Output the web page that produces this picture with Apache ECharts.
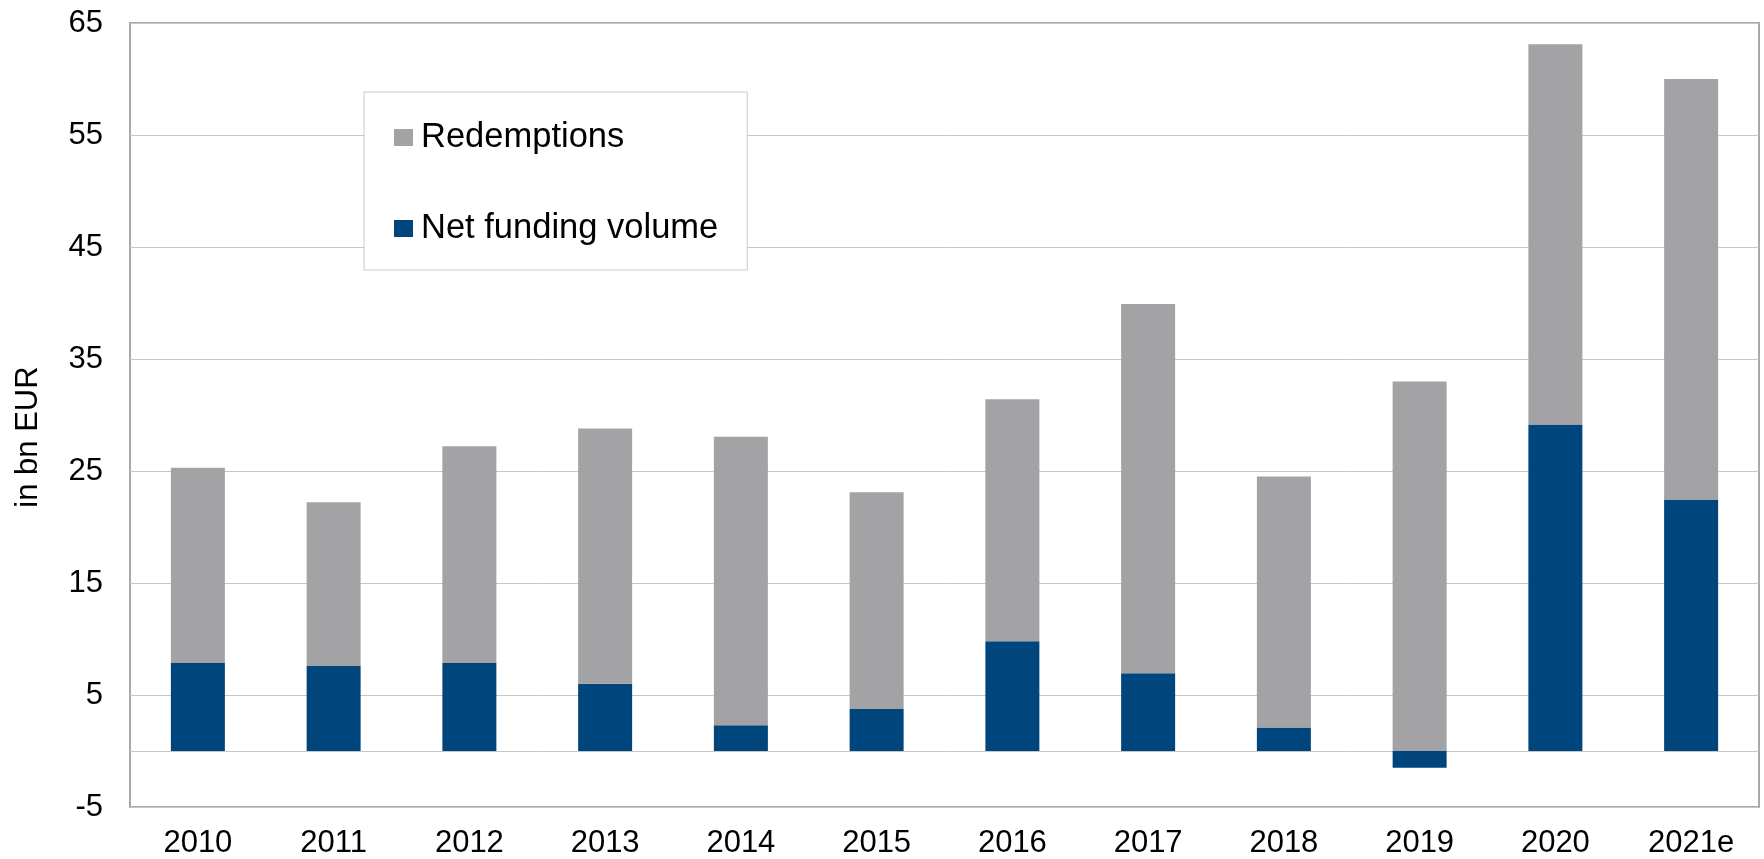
<!DOCTYPE html>
<html>
<head>
<meta charset="utf-8">
<script src="https://cdn.jsdelivr.net/npm/echarts@6/dist/echarts.min.js"></script>
<style>
html,body{margin:0;padding:0;background:#fff;}
#chart{width:1764px;height:859px;}
</style>
</head>
<body>
<div id="chart"></div>
<script>
const categories = ['2010','2011','2012','2013','2014','2015','2016','2017','2018','2019','2020','2021e'];
const netFunding = [7.85, 7.6, 7.85, 6.0, 2.3, 3.75, 9.8, 6.95, 2.1, -1.5, 29.15, 22.45];
const redemptions = [17.45, 14.6, 19.35, 22.8, 25.75, 19.35, 21.6, 32.95, 22.4, 33.0, 33.95, 37.55];
const yTicks = {min: -5, max: 65, interval: 10};
const yTitle = 'in bn EUR';

const FONT = '"Liberation Sans", Arial, sans-serif';
const chart = echarts.init(document.getElementById('chart'));
chart.setOption({
  backgroundColor: '#ffffff',
  animation: false,
  grid: {left: 130, right: 5, top: 23, bottom: 51, show: true, borderColor: '#a9a9a9', borderWidth: 2, backgroundColor: 'transparent'},
  legend: {
    data: ['Redemptions', 'Net funding volume'],
    orient: 'vertical',
    left: 364, top: 92,
    padding: [28, 29, 24, 30],
    itemGap: 56,
    itemWidth: 19, itemHeight: 17,
    backgroundColor: '#ffffff',
    borderColor: '#c8c8c8', borderWidth: 1,
    icon: 'rect',
    textStyle: {fontFamily: FONT, fontSize: 34.5, color: '#000', lineHeight: 35, padding: [0,0,0,3]}
  },
  graphic: [{
    type: 'text', x: 28, y: 437, rotation: Math.PI/2,
    style: {text: yTitle, font: '31px ' + FONT, fill: '#000', textAlign: 'center', textVerticalAlign: 'middle'}
  }],
  xAxis: {
    type: 'category', data: categories,
    axisLine: {show: false}, axisTick: {show: false},
    axisLabel: {fontFamily: FONT, fontSize: 31, color: '#000', margin: 21}
  },
  yAxis: {
    type: 'value', min: yTicks.min, max: yTicks.max, interval: yTicks.interval,
    axisLine: {show: false}, axisTick: {show: false},
    axisLabel: {fontFamily: FONT, fontSize: 31, color: '#000', margin: 27},
    splitLine: {lineStyle: {color: '#c6c6c6', width: 1}}
  },
  series: [
    {
      name: 'Net funding volume', type: 'bar', stack: 'total', data: netFunding,
      barWidth: 54, itemStyle: {color: '#00457b'},
      markLine: {silent: true, symbol: 'none', label: {show: false},
        lineStyle: {color: '#c6c6c6', width: 1, type: 'solid'}, data: [{yAxis: 0}], z: 1}
    },
    {
      name: 'Redemptions', type: 'bar', stack: 'total', data: redemptions,
      barWidth: 54, itemStyle: {color: '#a3a3a5'}
    }
  ]
});
</script>
</body>
</html>
